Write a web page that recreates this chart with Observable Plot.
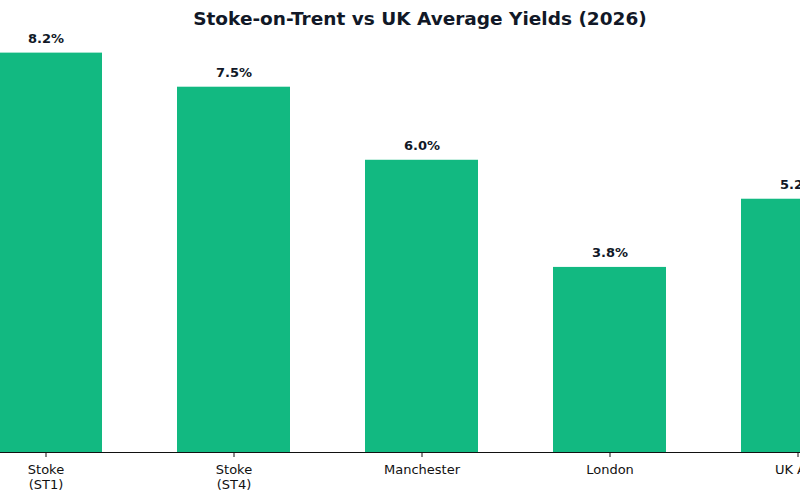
<!DOCTYPE html>
<html>
<head>
<meta charset="utf-8">
<script src="https://cdn.jsdelivr.net/npm/d3@7"></script>
<script src="https://cdn.jsdelivr.net/npm/@observablehq/plot@0.6"></script>
<style>
  html, body { margin: 0; padding: 0; background: #fff; }
  #wrap { position: relative; width: 800px; height: 500px; overflow: hidden; background: #fff; }
  #title {
    width: 760px; padding-left: 40px; height: 38px; line-height: 38px;
    text-align: center; font-family: "DejaVu Sans", sans-serif; font-weight: bold;
    font-size: 18.5px; color: #111827; white-space: nowrap;
  }
  #chart svg { overflow: visible; }
</style>
</head>
<body>
<div id="wrap">
  <div id="title">Stoke-on-Trent vs UK Average Yields (2026)</div>
  <div id="chart"></div>
</div>
<script>
// Gross rental yields by area, percent
const areas = ["Stoke\n(ST1)", "Stoke\n(ST4)", "Manchester", "London", "UK Avg"];
const yields = [8.2, 7.5, 6.0, 3.8, 5.2];

const rows = areas.map((area, i) => ({area, yield: yields[i]}));

const chart = Plot.plot({
  width: 800,
  height: 462,
  marginTop: 0,
  marginBottom: 48,
  marginLeft: 0,
  marginRight: 0,
  style: {fontFamily: "DejaVu Sans, sans-serif", background: "transparent"},
  x: {domain: areas, range: [-86.6, 928.6], padding: 0.4, label: null},
  y: {domain: [0, 8.5], axis: null},
  marks: [
    Plot.barY(rows, {x: "area", y: "yield", fill: "#12b981"}),
    Plot.text(rows, {
      x: "area", y: "yield",
      text: d => d.yield.toFixed(1) + "%",
      lineAnchor: "bottom", dy: -10,
      fontSize: 13, fontWeight: "bold", fill: "#111827"
    }),
    Plot.ruleY([0], {stroke: "#111", strokeWidth: 1.2}),
    Plot.axisX({
      tickSize: 5, tickPadding: 6, fontSize: 13, lineHeight: 1.13,
      stroke: "#111", fill: "#111", label: null
    })
  ]
});
document.getElementById("chart").appendChild(chart);
</script>
</body>
</html>
